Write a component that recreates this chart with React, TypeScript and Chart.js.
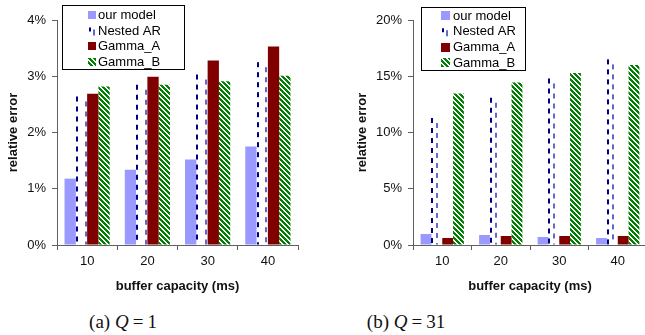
import React, { useEffect, useRef } from 'react';
import { Chart, registerables } from 'chart.js';

Chart.register(...registerables);

// ---------- data ----------
const categories = ['10', '20', '30', '40'];
const seriesLabels = ['our model', 'Nested AR', 'Gamma_A', 'Gamma_B'];

const ourModelQ1 = [1.18, 1.34, 1.52, 1.75];
const nestedARQ1 = [2.64, 2.85, 3.03, 3.25];
const gammaAQ1 = [2.69, 2.99, 3.28, 3.53];
const gammaBQ1 = [2.82, 2.85, 2.91, 3.01];

const ourModelQ31 = [0.98, 0.89, 0.71, 0.62];
const nestedARQ31 = [11.3, 13.1, 14.8, 16.5];
const gammaAQ31 = [0.62, 0.8, 0.8, 0.8];
const gammaBQ31 = [13.46, 14.44, 15.3, 16.0];

const yTicksQ1 = { max: 4, step: 1 };
const yTicksQ31 = { max: 20, step: 5 };

const xTitle = 'buffer capacity (ms)';
const yTitle = 'relative error';

// ---------- styles ----------
const FONT = '"Liberation Sans", Arial, Helvetica, sans-serif';
const AXIS = '#606060';
const OUR = '#9999ff';
const DARK_DASH = '#000080';
const LIGHT_DASH = '#6666cc';
const GAMMA_A = '#800000';
const GREEN = [0, 128, 0];

function stripePattern(ctx: CanvasRenderingContext2D): CanvasPattern | string {
  const n = 5;
  const c = document.createElement('canvas');
  c.width = n;
  c.height = n;
  const g = c.getContext('2d');
  if (!g) return 'rgb(0,128,0)';
  const img = g.createImageData(n, n);
  for (let y = 0; y < n; y++) {
    for (let x = 0; x < n; x++) {
      const on = (((x - y) % n) + n) % n < 3;
      const i = (y * n + x) * 4;
      img.data[i] = on ? GREEN[0] : 255;
      img.data[i + 1] = on ? GREEN[1] : 255;
      img.data[i + 2] = on ? GREEN[2] : 255;
      img.data[i + 3] = 255;
    }
  }
  g.putImageData(img, 0, 0);
  return ctx.createPattern(c, 'repeat') || 'rgb(0,128,0)';
}

type LegendCfg = {
  x: number; y: number; w: number; h: number;
  rowStart: number; rowStep: number; iconX: number; iconSize: number; textX: number;
};

type PanelCfg = {
  left: number; width: number; height: number;
  ourModel: number[]; nestedAR: number[]; gammaA: number[]; gammaB: number[];
  yMax: number; yStep: number;
  yAxisWidth: number; padTop: number; padRight: number; xAxisHeight: number;
  yTitlePad: number; catPct: number; lightMid: boolean;
  legend: LegendCfg;
};

function Panel({ cfg }: { cfg: PanelCfg }) {
  const ref = useRef<HTMLCanvasElement>(null);
  useEffect(() => {
    const canvas = ref.current;
    if (!canvas) return;
    const ctx = canvas.getContext('2d')!;
    const stripes = stripePattern(ctx);

    const dashPlugin = {
      id: 'dashBars',
      afterDatasetsDraw(chart: any) {
        const c = chart.ctx;
        chart.data.datasets.forEach((ds: any, di: number) => {
          if (ds.kind !== 'dash') return;
          const meta = chart.getDatasetMeta(di);
          meta.data.forEach((el: any) => {
            const p = el.getProps(['x', 'y', 'base', 'width'], true);
            const l = p.x - p.width / 2;
            const top = Math.min(p.y, p.base);
            const bot = Math.max(p.y, p.base);
            c.save();
            c.lineWidth = 2;
            c.setLineDash([5, 5]);
            c.strokeStyle = DARK_DASH;
            c.beginPath();
            c.moveTo(Math.round(l) + 1, top);
            c.lineTo(Math.round(l) + 1, bot);
            c.stroke();
            const lx = cfg.lightMid ? l + p.width / 2 + 0.5 : l + p.width - 1.5;
            c.strokeStyle = LIGHT_DASH;
            c.lineDashOffset = 5;
            c.beginPath();
            c.moveTo(Math.round(lx), top);
            c.lineTo(Math.round(lx), bot);
            c.stroke();
            c.restore();
          });
        });
      },
    };

    const legendPlugin = {
      id: 'boxLegend',
      afterDraw(chart: any) {
        const c = chart.ctx;
        const L = cfg.legend;
        c.save();
        c.fillStyle = '#fff';
        c.fillRect(L.x, L.y, L.w, L.h);
        c.strokeStyle = '#000';
        c.lineWidth = 1;
        c.strokeRect(L.x + 0.5, L.y + 0.5, L.w, L.h);
        c.font = `13px ${FONT}`;
        c.textBaseline = 'middle';
        chart.data.datasets.forEach((ds: any, i: number) => {
          const cy = L.rowStart + i * L.rowStep;
          const s = L.iconSize;
          const ix = L.iconX;
          if (ds.kind === 'dash') {
            c.lineWidth = 2;
            c.strokeStyle = DARK_DASH;
            c.beginPath();
            c.moveTo(ix + 2, cy - 3);
            c.lineTo(ix + 2, cy + 1);
            c.stroke();
            c.strokeStyle = LIGHT_DASH;
            c.beginPath();
            c.moveTo(ix + 6, cy - 1);
            c.lineTo(ix + 6, cy + 5);
            c.stroke();
          } else {
            c.fillStyle = ds.backgroundColor;
            c.fillRect(ix, Math.round(cy - s / 2), s, s);
          }
          c.fillStyle = '#000';
          c.fillText(ds.label, L.textX, cy + 0.5);
        });
        c.restore();
      },
    };

    const chart = new Chart(canvas, {
      type: 'bar',
      data: {
        labels: categories,
        datasets: [
          { label: seriesLabels[0], data: cfg.ourModel, backgroundColor: OUR, kind: 'solid' } as any,
          { label: seriesLabels[1], data: cfg.nestedAR, backgroundColor: 'rgba(255,255,255,0)', kind: 'dash' } as any,
          { label: seriesLabels[2], data: cfg.gammaA, backgroundColor: GAMMA_A, kind: 'solid' } as any,
          { label: seriesLabels[3], data: cfg.gammaB, backgroundColor: stripes, kind: 'solid' } as any,
        ],
      },
      options: {
        animation: false,
        responsive: false,
        devicePixelRatio: 1,
        events: [],
        datasets: { bar: { categoryPercentage: cfg.catPct, barPercentage: 1, borderWidth: 0 } },
        layout: { padding: { top: cfg.padTop, right: cfg.padRight, left: 0, bottom: 0 } },
        plugins: { legend: { display: false }, tooltip: { enabled: false } },
        scales: {
          x: {
            grid: { drawOnChartArea: false, drawTicks: true, tickLength: 5, color: AXIS, offset: true },
            border: { color: AXIS, width: 1 },
            ticks: { color: '#111', font: { family: FONT, size: 13 }, padding: 4, maxRotation: 0 },
            title: {
              display: true, text: xTitle, color: '#111',
              font: { family: FONT, size: 13, weight: 'bold' }, padding: { top: 0, bottom: 6 },
            },
            afterFit: (s: any) => { s.height = cfg.xAxisHeight; },
          },
          y: {
            min: 0, max: cfg.yMax,
            grid: { drawOnChartArea: false, drawTicks: true, tickLength: 5, color: AXIS },
            border: { color: AXIS, width: 1 },
            ticks: {
              stepSize: cfg.yStep, color: '#111', font: { family: FONT, size: 13 }, padding: 6,
              callback: (v: any) => `${v}%`,
            },
            title: {
              display: true, text: yTitle, color: '#111',
              font: { family: FONT, size: 13, weight: 'bold' }, padding: { top: cfg.yTitlePad, bottom: 0 },
            },
            afterFit: (s: any) => { s.width = cfg.yAxisWidth; },
          },
        },
      } as any,
      plugins: [dashPlugin, legendPlugin],
    });
    return () => chart.destroy();
  }, [cfg]);

  return (
    <canvas
      ref={ref}
      width={cfg.width}
      height={cfg.height}
      style={{ position: 'absolute', left: cfg.left, top: 0, width: cfg.width, height: cfg.height }}
    />
  );
}

const panelA: PanelCfg = {
  left: 0, width: 320, height: 300,
  ourModel: ourModelQ1, nestedAR: nestedARQ1, gammaA: gammaAQ1, gammaB: gammaBQ1,
  yMax: yTicksQ1.max, yStep: yTicksQ1.step,
  yAxisWidth: 57, padTop: 20, padRight: 22, xAxisHeight: 55,
  yTitlePad: 6, catPct: 0.75, lightMid: false,
  legend: { x: 62, y: 5, w: 122, h: 64, rowStart: 15, rowStep: 15.5, iconX: 88, iconSize: 8, textX: 98 },
};

const panelB: PanelCfg = {
  left: 320, width: 335, height: 300,
  ourModel: ourModelQ31, nestedAR: nestedARQ31, gammaA: gammaAQ31, gammaB: gammaBQ31,
  yMax: yTicksQ31.max, yStep: yTicksQ31.step,
  yAxisWidth: 93, padTop: 20, padRight: 8, xAxisHeight: 55,
  yTitlePad: 35, catPct: 0.74, lightMid: true,
  legend: { x: 101, y: 7, w: 104, h: 63, rowStart: 15.5, rowStep: 15.8, iconX: 121, iconSize: 9, textX: 133 },
};

const captionStyle: React.CSSProperties = {
  position: 'absolute', top: 310, width: 200, textAlign: 'center',
  fontFamily: '"Liberation Serif", "Times New Roman", serif', fontSize: 19, color: '#111',
  lineHeight: '23px', whiteSpace: 'nowrap',
};

const eqStyle: React.CSSProperties = { margin: '0 4px' };

export default function App() {
  return (
    <div style={{ position: 'fixed', left: 0, top: 0, width: 645, height: 335, overflow: 'hidden', background: '#fff' }}>
      <Panel cfg={panelA} />
      <Panel cfg={panelB} />
      <div style={{ ...captionStyle, left: 123 - 100 }}>
        (a) <i>Q</i><span style={eqStyle}>=</span>1
      </div>
      <div style={{ ...captionStyle, left: 406 - 100 }}>
        (b) <i>Q</i><span style={eqStyle}>=</span>31
      </div>
    </div>
  );
}
